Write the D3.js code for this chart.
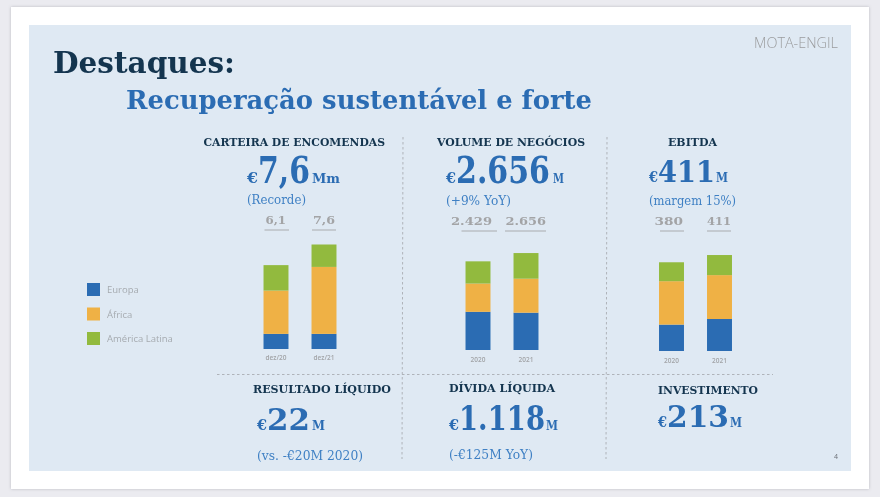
<!DOCTYPE html>
<html lang="pt">
<head>
  <meta charset="UTF-8">
  <title>Destaques</title>
  <script src="https://d3js.org/d3.v7.min.js"></script>
  <style>
    html, body { margin: 0; padding: 0; background: #ebebf0; overflow: hidden; }
    svg { display: block; filter: blur(0.35px); }
    .serif { font-family: "DejaVu Serif", "Liberation Serif", serif; }
    .sans { font-family: "Open Sans", "Noto Sans", sans-serif; }
  </style>
</head>
<body>
  <svg id="slide" width="880" height="497"></svg>

  <script>
    // Dados
    const seriesNames = ['Europa', 'África', 'América Latina'];
    const seriesColors = ['#2b6cb3', '#efb145', '#92ba3e'];

    const carteiraYears = ['dez/20', 'dez/21'];
    const carteiraEuropa = [1.1, 1.1];
    const carteiraAfrica = [3.15, 4.87];
    const carteiraLatina = [1.85, 1.63];
    const carteiraTotals = ['6,1', '7,6'];

    const volumeYears = ['2020', '2021'];
    const volumeEuropa = [1046, 1022];
    const volumeAfrica = [775, 932];
    const volumeLatina = [608, 702];
    const volumeTotals = ['2.429', '2.656'];

    const ebitdaYears = ['2020', '2021'];
    const ebitdaEuropa = [113, 137];
    const ebitdaAfrica = [186, 188];
    const ebitdaLatina = [81, 86];
    const ebitdaTotals = ['380', '411'];

    const navy = '#14354f';
    const blue = '#2b6cb3';
    const lightBlue = '#3f80c4';
    const grey = '#a3a4a6';

    const svg = d3.select('#slide');

    // Folha e painel
    const defs = svg.append('defs');
    defs.append('filter').attr('id', 'shadow')
      .attr('x', '-2%').attr('y', '-2%').attr('width', '104%').attr('height', '104%')
      .append('feDropShadow')
      .attr('dx', 0).attr('dy', 0).attr('stdDeviation', 1.5)
      .attr('flood-color', '#9a9aa0').attr('flood-opacity', 0.6);
    svg.append('rect').attr('x', 11).attr('y', 7).attr('width', 858).attr('height', 482)
      .attr('fill', '#fff').attr('filter', 'url(#shadow)');
    svg.append('rect').attr('x', 29).attr('y', 25).attr('width', 822).attr('height', 446)
      .attr('fill', '#dfe9f3');

    // Texto serif ajustado à largura medida
    function label(str, x1, x2, y, size, color, weight = 'bold') {
      return svg.append('text')
        .attr('class', 'serif')
        .attr('x', x1).attr('y', y)
        .attr('textLength', x2 - x1)
        .attr('lengthAdjust', 'spacingAndGlyphs')
        .attr('font-size', size)
        .attr('font-weight', weight)
        .attr('fill', color)
        .text(str);
    }

    label('Destaques:', 53, 235, 73, 30, navy);
    label('Recuperação sustentável e forte', 126, 592, 109, 26.5, blue);

    // Logótipo
    svg.append('text').attr('class', 'sans')
      .attr('x', 754).attr('y', 48)
      .attr('textLength', 84).attr('lengthAdjust', 'spacingAndGlyphs')
      .attr('font-size', 14).attr('font-weight', 300).attr('fill', '#9b9c9e')
      .text('MOTA-ENGIL');

    svg.append('text').attr('class', 'sans')
      .attr('x', 836).attr('y', 459).attr('text-anchor', 'middle')
      .attr('font-size', 7).attr('fill', '#6b7077').text('4');

    // Linhas tracejadas
    const dashed = [
      [403, 137, 402, 459],
      [607, 137, 606, 459],
      [217, 374.5, 773, 374.5]
    ];
    svg.selectAll('line.sep').data(dashed).join('line')
      .attr('class', 'sep')
      .attr('x1', d => d[0]).attr('y1', d => d[1])
      .attr('x2', d => d[2]).attr('y2', d => d[3])
      .attr('stroke', '#a9adb2').attr('stroke-width', 0.9)
      .attr('stroke-dasharray', '2.5,2.5');

    // Cabeçalhos
    label('CARTEIRA DE ENCOMENDAS', 203.5, 385, 146, 11, navy);
    label('VOLUME DE NEGÓCIOS', 437, 585, 146, 11, navy);
    label('EBITDA', 668, 717, 146, 11, navy);
    label('RESULTADO LÍQUIDO', 253, 391, 393, 11.5, navy);
    label('DÍVIDA LÍQUIDA', 449, 555, 392, 11.5, navy);
    label('INVESTIMENTO', 658, 758, 394, 11.5, navy);

    // Valores grandes: símbolo, número, unidade
    function bigValue(num, unit, xs, y, size) {
      label('€', xs[0], xs[1], y, 15, blue);
      label(num, xs[1], xs[2], y, size, blue);
      label(unit, xs[3], xs[4], y, 12, blue);
    }
    bigValue('7,6', 'Mm', [247, 258, 310, 312, 340], 183, 37);
    bigValue('2.656', 'M', [446, 456, 550, 553, 564], 183, 37);
    bigValue('411', 'M', [649, 658, 715, 716, 728], 182, 29);
    bigValue('22', 'M', [257, 267, 310, 312, 325], 430, 29);
    bigValue('1.118', 'M', [449, 459, 545, 546, 558], 430, 33);
    bigValue('213', 'M', [658, 667, 729, 730, 742], 427, 30);

    // Subtítulos
    label('(Recorde)', 247, 306, 204, 13, lightBlue, 'normal');
    label('(+9% YoY)', 446, 511, 205, 13, lightBlue, 'normal');
    label('(margem 15%)', 649, 736, 205, 13, lightBlue, 'normal');
    label('(vs. -€20M 2020)', 257, 363, 460, 13, lightBlue, 'normal');
    label('(-€125M YoY)', 449, 533, 459, 13, lightBlue, 'normal');

    // Legenda
    const legend = svg.append('g').selectAll('g').data(seriesNames).join('g')
      .attr('transform', (d, i) => `translate(87, ${283 + i * 24.5})`);
    legend.append('rect').attr('width', 13).attr('height', 13)
      .attr('fill', (d, i) => seriesColors[i]);
    legend.append('text').attr('class', 'sans')
      .attr('x', 20).attr('y', 10)
      .attr('font-size', 9.5).attr('fill', '#a6abb0')
      .text(d => d);

    // Barras empilhadas
    function stackedBars(cfg) {
      const rows = cfg.years.map((year, i) => ({
        year,
        Europa: cfg.europa[i],
        'África': cfg.africa[i],
        'América Latina': cfg.latina[i]
      }));
      const stacked = d3.stack().keys(seriesNames)(rows);
      const x = d3.scaleBand().domain(cfg.years)
        .range([cfg.left, cfg.left + 96])
        .paddingInner(0.48).paddingOuter(0.24);
      const y = d3.scaleLinear().domain([0, 1])
        .range([cfg.base, cfg.base - cfg.pxPerUnit]);

      const g = svg.append('g');
      g.selectAll('g.layer').data(stacked).join('g')
        .attr('class', 'layer')
        .attr('fill', (d, i) => seriesColors[i])
        .selectAll('rect').data(d => d).join('rect')
        .attr('x', d => x(d.data.year))
        .attr('width', x.bandwidth())
        .attr('y', d => y(d[1]))
        .attr('height', d => y(d[0]) - y(d[1]));

      const axis = g.append('g')
        .attr('transform', `translate(0, ${cfg.base})`)
        .call(d3.axisBottom(x).tickSize(0).tickPadding(cfg.tickPad));
      axis.select('.domain').remove();
      axis.selectAll('text')
        .attr('font-family', '"Open Sans", "Noto Sans", sans-serif')
        .attr('font-size', 6.5).attr('font-weight', 600).attr('fill', '#a2a4a7');

      // Totais sublinhados
      cfg.totals.forEach((t, i) => {
        label(t, cfg.totalX[i][0], cfg.totalX[i][1], cfg.totalY, 11.5, grey);
        g.append('line')
          .attr('x1', cfg.rule[i][0]).attr('x2', cfg.rule[i][1])
          .attr('y1', cfg.totalY + 6).attr('y2', cfg.totalY + 6)
          .attr('stroke', '#a9abae').attr('stroke-width', 1);
      });
    }

    stackedBars({
      years: carteiraYears, europa: carteiraEuropa, africa: carteiraAfrica, latina: carteiraLatina,
      totals: carteiraTotals, left: 252, base: 349, pxPerUnit: 13.75, tickPad: 6,
      totalX: [[265.5, 286], [313, 335]], totalY: 224,
      rule: [[264.5, 289], [312, 336]]
    });
    stackedBars({
      years: volumeYears, europa: volumeEuropa, africa: volumeAfrica, latina: volumeLatina,
      totals: volumeTotals, left: 454, base: 350, pxPerUnit: 0.0365, tickPad: 7,
      totalX: [[451, 492], [505.5, 546]], totalY: 225,
      rule: [[461.5, 497], [505, 546]]
    });
    stackedBars({
      years: ebitdaYears, europa: ebitdaEuropa, africa: ebitdaAfrica, latina: ebitdaLatina,
      totals: ebitdaTotals, left: 647.5, base: 351, pxPerUnit: 0.2335, tickPad: 7,
      totalX: [[654.5, 683], [707, 731]], totalY: 225,
      rule: [[660, 684], [707, 731]]
    });
  </script>
</body>
</html>
